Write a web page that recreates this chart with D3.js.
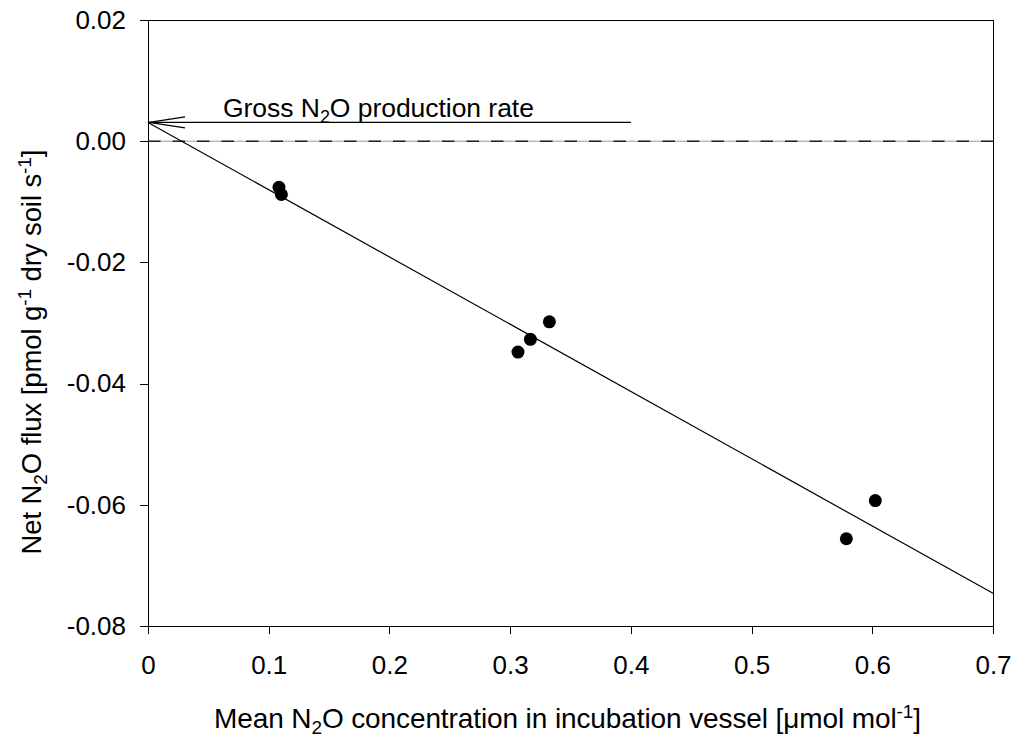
<!DOCTYPE html>
<html><head><meta charset="utf-8">
<script src="https://cdn.jsdelivr.net/npm/d3@7"></script>
<style>
html,body{margin:0;padding:0;background:#fff;}
text{font-family:"Liberation Sans",Arial,sans-serif;fill:#000;}
</style></head>
<body><svg id="c" width="1018" height="740"></svg>
<script>
// Data
const concX = [0.1085, 0.1105, 0.3065, 0.3168, 0.3325, 0.5785, 0.6025];
const netFlux = [-0.0076, -0.0088, -0.0348, -0.0327, -0.0298, -0.0656, -0.0593];
const fitX = [0, 0.7];
const fitY = [0.0031, -0.0746];
const grossRate = 0.0031;
const arrowEndX = 0.4;
const xTicks = [0, 0.1, 0.2, 0.3, 0.4, 0.5, 0.6, 0.7];
const xTickLabels = ["0", "0.1", "0.2", "0.3", "0.4", "0.5", "0.6", "0.7"];
const yTicks = [0.02, 0.00, -0.02, -0.04, -0.06, -0.08];
const yTickLabels = ["0.02", "0.00", "-0.02", "-0.04", "-0.06", "-0.08"];

const svg = d3.select("#c");
const L = 148, T = 20, W = 845, H = 606;
const x = d3.scaleLinear().domain([0, 0.7]).range([L, L + W]);
const y = d3.scaleLinear().domain([-0.08, 0.02]).range([T + H, T]);

// frame (top and right)
svg.append("line").attr("x1", L).attr("x2", L + W).attr("y1", y(0.02)).attr("y2", y(0.02))
  .attr("stroke", "#000").attr("stroke-width", 1).attr("shape-rendering", "crispEdges");
svg.append("line").attr("x1", x(0.7)).attr("x2", x(0.7)).attr("y1", T).attr("y2", T + H)
  .attr("stroke", "#000").attr("stroke-width", 1).attr("shape-rendering", "crispEdges");

// zero lines
svg.append("line").attr("x1", L).attr("x2", L + W).attr("y1", y(0)).attr("y2", y(0))
  .attr("stroke", "#9a9a9a").attr("stroke-width", 1);
svg.append("line").attr("x1", L).attr("x2", L + W).attr("y1", y(0)).attr("y2", y(0))
  .attr("stroke", "#222").attr("stroke-width", 1.6).attr("stroke-dasharray", "12.5 12");

// axes
const yAxis = d3.axisLeft(y).tickValues(yTicks).tickSize(8).tickSizeOuter(0)
  .tickFormat((d, i) => yTickLabels[i]).tickPadding(14);
const gy = svg.append("g").attr("transform", `translate(${L},0)`).call(yAxis);
const xAxis = d3.axisBottom(x).tickValues(xTicks).tickSize(8).tickSizeOuter(0)
  .tickFormat((d, i) => xTickLabels[i]).tickPadding(22);
const gx = svg.append("g").attr("transform", `translate(0,${T + H})`).call(xAxis);
[gx, gy].forEach(g => {
  g.selectAll("path,line").attr("stroke", "#000").attr("shape-rendering", "crispEdges");
  g.selectAll("text").attr("font-size", 26).attr("font-family", '"Liberation Sans",Arial,sans-serif');
});
gy.select(".domain").attr("d", `M0,${T}V${T + H + 8}`);
gx.select(".domain").attr("d", `M${L},0H${L + W}`);

// fit line
svg.append("line").attr("x1", x(fitX[0])).attr("y1", y(fitY[0]))
  .attr("x2", x(fitX[1])).attr("y2", y(fitY[1])).attr("stroke", "#000").attr("stroke-width", 1.2);

// arrow
const ay = y(grossRate), ax0 = x(0), ax1 = x(arrowEndX);
svg.append("line").attr("x1", ax0).attr("x2", ax1).attr("y1", ay).attr("y2", ay)
  .attr("stroke", "#000").attr("stroke-width", 1.3);
svg.append("path").attr("d", `M${ax0 + 37},${ay - 5.5}L${ax0 + 1},${ay}L${ax0 + 37},${ay + 5.5}`)
  .attr("fill", "none").attr("stroke", "#000").attr("stroke-width", 1.2);

// points
svg.selectAll("circle.pt").data(concX).enter().append("circle").attr("class", "pt")
  .attr("cx", d => x(d)).attr("cy", (d, i) => y(netFlux[i])).attr("r", 6.5).attr("fill", "#000");

// annotation
const ann = svg.append("text").attr("x", 223).attr("y", 117).attr("font-size", 26.5)
  .attr("letter-spacing", -0.9).attr("textLength", 310).attr("lengthAdjust", "spacing");
ann.append("tspan").text("Gross N");
ann.append("tspan").text("2").attr("font-size", 18).attr("dy", 6);
ann.append("tspan").text("O production rate").attr("dy", -6);

// x title
const xt = svg.append("text").attr("x", 214).attr("y", 728).attr("font-size", 28)
  .attr("textLength", 707).attr("lengthAdjust", "spacing");
xt.append("tspan").text("Mean N");
xt.append("tspan").text("2").attr("font-size", 19).attr("dy", 6);
xt.append("tspan").text("O concentration in incubation vessel [\u03bcmol mol").attr("dy", -6);
xt.append("tspan").text("-1").attr("font-size", 19).attr("dy", -10);
xt.append("tspan").text("]").attr("dy", 10);

// y title
const yt = svg.append("text").attr("transform", "translate(41,352) rotate(-90)")
  .attr("text-anchor", "middle").attr("font-size", 27.5)
  .attr("textLength", 405).attr("lengthAdjust", "spacing");
yt.append("tspan").text("Net N");
yt.append("tspan").text("2").attr("font-size", 19).attr("dy", 6);
yt.append("tspan").text("O flux [pmol g").attr("dy", -6);
yt.append("tspan").text("-1").attr("font-size", 19).attr("dy", -10);
yt.append("tspan").text(" dry soil s").attr("dy", 10);
yt.append("tspan").text("-1").attr("font-size", 19).attr("dy", -10);
yt.append("tspan").text("]").attr("dy", 10);
</script>
</body></html>
